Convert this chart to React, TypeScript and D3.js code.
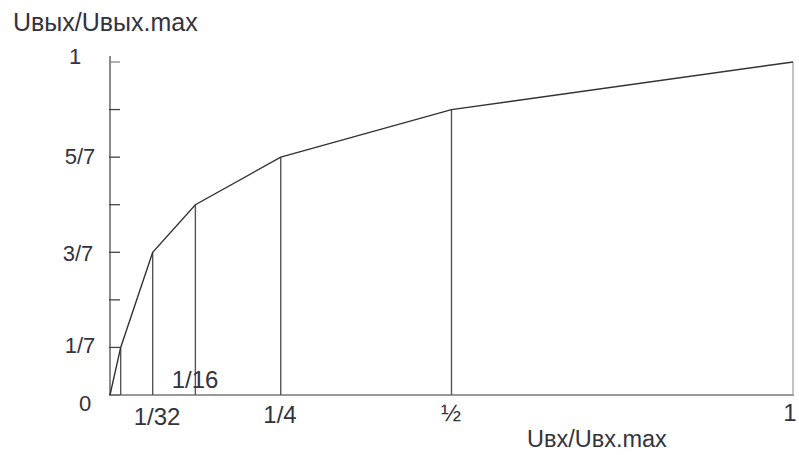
import React from "react";
import * as d3 from "d3";

const breakX = [0, 1 / 64, 1 / 16, 1 / 8, 1 / 4, 1 / 2, 1];
const breakY = [0, 1 / 7, 3 / 7, 4 / 7, 5 / 7, 6 / 7, 1];
const yTicks = [0, 1, 2, 3, 4, 5, 6, 7].map((k) => k / 7);
const yLabels = [
  { v: 0, t: "0", cx: 85, dy: 16 },
  { v: 1 / 7, t: "1/7", cx: 80, dy: 6 },
  { v: 3 / 7, t: "3/7", cx: 78, dy: 9 },
  { v: 5 / 7, t: "5/7", cx: 80, dy: 7 },
  { v: 1, t: "1", cx: 75, dy: 2 },
];
// x labels (placed as in the source figure)
const xLabels = [
  { t: "1/32", x: 157, y: 425 },
  { t: "1/16", x: 195, y: 388 },
  { t: "1/4", x: 280, y: 423 },
  { t: "½", x: 451, y: 421 },
  { t: "1", x: 790, y: 421 },
];

export default function App() {
  const W = 799, H = 455;
  const x = d3.scaleLinear().domain([0, 1]).range([110, 793]);
  const y = d3.scaleLinear().domain([0, 1]).range([395, 62]);
  const pts: [number, number][] = breakX.map((v, i) => [v, breakY[i]]);
  const line = d3.line<[number, number]>().x((d) => x(d[0])).y((d) => y(d[1]));
  const font = "'Liberation Sans', Arial, sans-serif";
  const tc = "#333340";
  return (
    <svg width={W} height={H} style={{ position: "absolute", left: 0, top: 0, background: "#fff" }}>
      <rect width={W} height={H} fill="#fff" />
      {/* y axis */}
      <line x1={x(0)} x2={x(0)} y1={56} y2={y(0)} stroke="#666" strokeWidth={1.5} />
      {yTicks.map((v, i) => (
        <line key={i} x1={x(0) - 1} x2={x(0) + 10} y1={y(v)} y2={y(v)} stroke={i === 7 ? "#888" : "#444"} strokeWidth={1.3} />
      ))}
      {/* x axis */}
      <line x1={x(0)} x2={x(1) + 1} y1={y(0)} y2={y(0)} stroke="#777" strokeWidth={1.6} />
      {/* verticals */}
      {pts.slice(1).map((p, i) => (
        <line key={i} x1={x(p[0])} x2={x(p[0])} y1={y(p[1])} y2={y(0)} stroke={i === pts.length - 2 ? "#aaa" : "#555"} strokeWidth={1.4} />
      ))}
      {/* curve */}
      <path d={line(pts) || ""} fill="none" stroke="#333" strokeWidth={1.4} />
      {/* y labels */}
      {yLabels.map((l, i) => (
        <text key={i} x={l.cx} y={y(l.v) + l.dy} textAnchor="middle" fontFamily={font} fontSize={22} fill={tc}>
          {l.t}
        </text>
      ))}
      {xLabels.map((l, i) => (
        <text key={i} x={l.x} y={l.y} textAnchor="middle" fontFamily={font} fontSize={24} fill={tc}>
          {l.t}
        </text>
      ))}
      <text x={13} y={31} fontFamily={font} fontSize={25} fill={tc}>Uвых/Uвых.max</text>
      <text x={527} y={447} fontFamily={font} fontSize={23.5} fill={tc}>Uвх/Uвх.max</text>
    </svg>
  );
}
